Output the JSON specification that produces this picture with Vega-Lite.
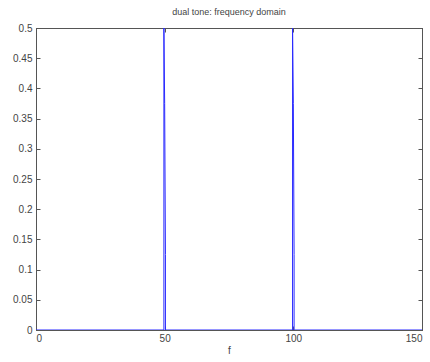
{
  "$schema": "https://vega.github.io/schema/vega-lite/v6.json",
  "autosize": "none",
  "padding": {"left": 36, "top": 28, "right": 8, "bottom": 32},
  "width": 386,
  "height": 302,
  "background": "white",
  "config": {
    "view": {"stroke": "#555", "strokeWidth": 1},
    "font": "Liberation Sans",
    "axis": {"grid": false, "domainColor": "#555", "tickColor": "#555", "labelColor": "#444", "labelFont": "Liberation Sans", "labelFontSize": 10, "titleFont": "Liberation Sans", "titleFontSize": 10, "titleFontWeight": "normal", "titleColor": "#444"}
  },
  "title": {"text": "dual tone: frequency domain", "fontSize": 9, "fontWeight": "normal", "color": "#444", "offset": 6, "font": "Liberation Sans", "anchor": "middle"},
  "data": {"values": [
    {"i": 0, "f": 0, "y": 0},
    {"i": 1, "f": 49.7, "y": 0},
    {"i": 2, "f": 49.7, "y": 0.5},
    {"i": 3, "f": 50.0, "y": 0.375},
    {"i": 4, "f": 50.3, "y": 0.125},
    {"i": 5, "f": 50.3, "y": 0},
    {"i": 6, "f": 99.7, "y": 0},
    {"i": 7, "f": 99.7, "y": 0.5},
    {"i": 8, "f": 100.0, "y": 0.375},
    {"i": 9, "f": 100.3, "y": 0.125},
    {"i": 10, "f": 100.3, "y": 0},
    {"i": 11, "f": 150, "y": 0}
  ]},
  "layer": [
    {
      "mark": {"type": "point", "opacity": 0},
      "encoding": {
        "x": {"field": "f", "type": "quantitative", "scale": {"domain": [0, 150], "nice": false}, "axis": {"orient": "top", "values": [0, 50, 100, 150], "tickSize": -4, "labels": false, "title": null}},
        "y": {"field": "y", "type": "quantitative", "scale": {"domain": [0, 0.5], "nice": false}, "axis": {"orient": "right", "values": [0, 0.05, 0.1, 0.15, 0.2, 0.25, 0.3, 0.35, 0.4, 0.45, 0.5], "tickSize": -4, "labels": false, "title": null}}
      }
    },
    {
      "mark": {"type": "line", "color": "#2a2aff", "strokeWidth": 1, "clip": true},
      "encoding": {
        "x": {"field": "f", "type": "quantitative", "scale": {"domain": [0, 150], "nice": false}, "axis": {"values": [0, 50, 100, 150], "tickSize": -4, "labelPadding": 7, "title": "f", "titlePadding": 2}},
        "y": {"field": "y", "type": "quantitative", "scale": {"domain": [0, 0.5], "nice": false}, "axis": {"values": [0, 0.05, 0.1, 0.15, 0.2, 0.25, 0.3, 0.35, 0.4, 0.45, 0.5], "format": "~g", "tickSize": -4, "labelPadding": 8, "title": null}},
        "order": {"field": "i", "type": "quantitative"}
      }
    }
  ],
  "resolve": {"axis": {"x": "independent", "y": "independent"}}
}
